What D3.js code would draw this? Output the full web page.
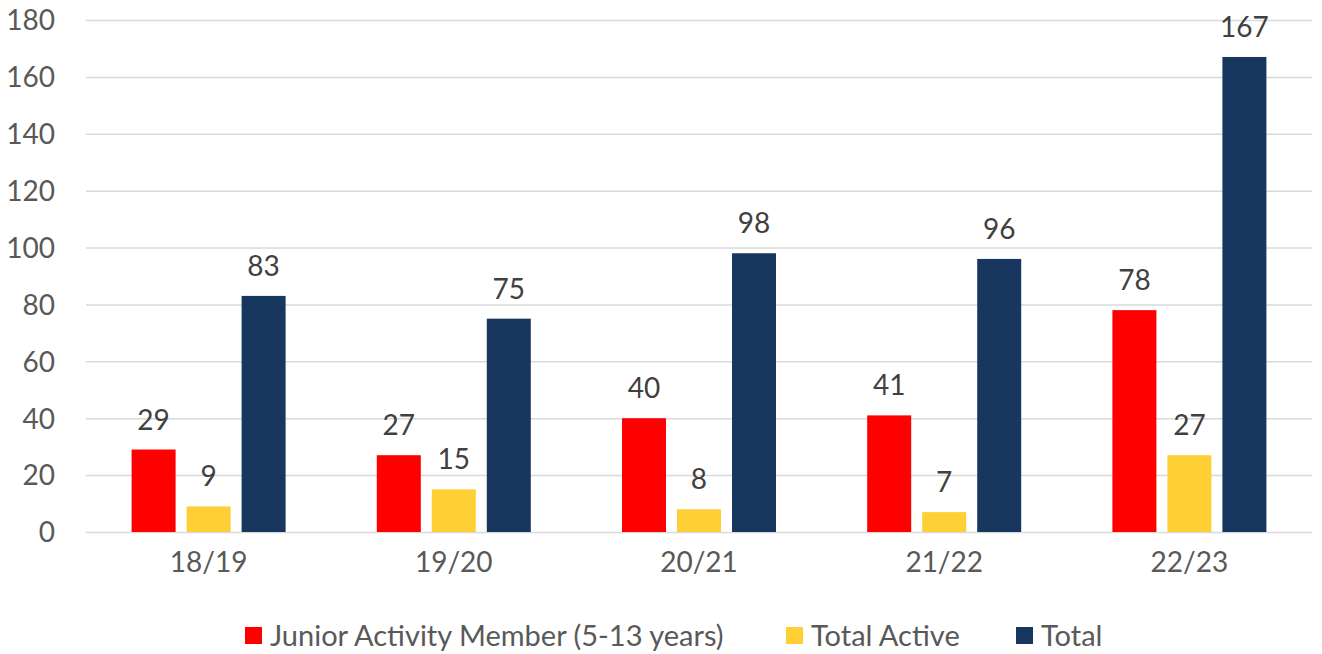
<!DOCTYPE html>
<html>
  <head>
    <meta charset="utf-8">
    <title>Members by season</title>
    <script src="https://d3js.org/d3.v7.min.js"></script>
    <style>
      body { margin: 0; background: #fff; }
      text { font-family: Lato, "Open Sans", sans-serif; }
      .tick text { fill: #595959; font-size: 28px; }
      .label { fill: #404040; font-size: 28px; text-anchor: middle; }
      .legend text { fill: #595959; font-size: 29px; }
    </style>
  </head>
  <body>
    <svg id="chart" width="1322" height="654"></svg>
    <script>
      // chart data
      var seasons = ["18/19", "19/20", "20/21", "21/22", "22/23"];
      var seriesNames = ["Junior Activity Member (5-13 years)", "Total Active", "Total"];
      var junior = [29, 27, 40, 41, 78];
      var active = [9, 15, 8, 7, 27];
      var total = [83, 75, 98, 96, 167];
      var yTicks = [0, 20, 40, 60, 80, 100, 120, 140, 160, 180];
      var colours = ["#ff0000", "#ffd036", "#18375e"];

      var seriesValues = [junior, active, total];
      var chart = d3.select("#chart");
      var margin = { top: 20, right: 10, bottom: 122, left: 86 };
      var width = 1322, height = 654;

      var x = d3.scaleBand()
        .domain(seasons)
        .range([margin.left, width - margin.right]);
      var x1 = d3.scaleBand()
        .domain(seriesNames)
        .range([x.bandwidth() / 2 - 77, x.bandwidth() / 2 + 77])
        .paddingInner(0.2);
      var y = d3.scaleLinear()
        .domain([0, 180])
        .range([height - margin.bottom, margin.top]);

      // gridlines + y labels
      var yAxis = d3.axisLeft(y)
        .tickValues(yTicks)
        .tickSize(margin.left + margin.right - width)
        .tickPadding(30);
      chart.append("g")
        .attr("transform", "translate(" + margin.left + ",0)")
        .call(yAxis)
        .call(function(g) {
          g.select(".domain").remove();
          g.selectAll(".tick line").attr("stroke", "#d9d9d9").attr("stroke-width", 1.5);
          g.selectAll(".tick text").attr("x", -31).attr("dy", "0.35em");
        });

      // x labels
      var xAxis = d3.axisBottom(x).tickSize(0).tickPadding(20);
      chart.append("g")
        .attr("transform", "translate(0," + y(0) + ")")
        .call(xAxis)
        .call(function(g) { g.select(".domain").remove(); });

      // bars
      var groups = chart.append("g").selectAll("g")
        .data(seasons)
        .enter().append("g")
          .attr("transform", function(d) { return "translate(" + x(d) + ",0)"; });
      groups.selectAll("rect")
        .data(function(d, i) {
          return seriesNames.map(function(s, j) { return { name: s, value: seriesValues[j][i], c: colours[j] }; });
        })
        .enter().append("rect")
          .attr("x", function(d) { return x1(d.name); })
          .attr("width", x1.bandwidth())
          .attr("y", function(d) { return y(d.value); })
          .attr("height", function(d) { return y(0) - y(d.value); })
          .attr("fill", function(d) { return d.c; });
      groups.selectAll(".label")
        .data(function(d, i) {
          return seriesNames.map(function(s, j) { return { name: s, value: seriesValues[j][i] }; });
        })
        .enter().append("text")
          .classed("label", true)
          .attr("x", function(d) { return x1(d.name) + x1.bandwidth() / 2; })
          .attr("y", function(d) { return y(d.value) - 20; })
          .text(function(d) { return d.value; });

      // legend
      var legendX = [245, 786, 1016];
      var legend = chart.append("g").classed("legend", true)
        .selectAll("g")
        .data(seriesNames)
        .enter().append("g")
          .attr("transform", function(d, i) { return "translate(" + legendX[i] + ",627)"; });
      legend.append("rect")
        .attr("width", 17).attr("height", 17)
        .attr("fill", function(d, i) { return colours[i]; });
      legend.append("text")
        .attr("x", 25).attr("y", 9).attr("dy", "0.35em")
        .text(function(d) { return d; });
    </script>
  </body>
</html>
